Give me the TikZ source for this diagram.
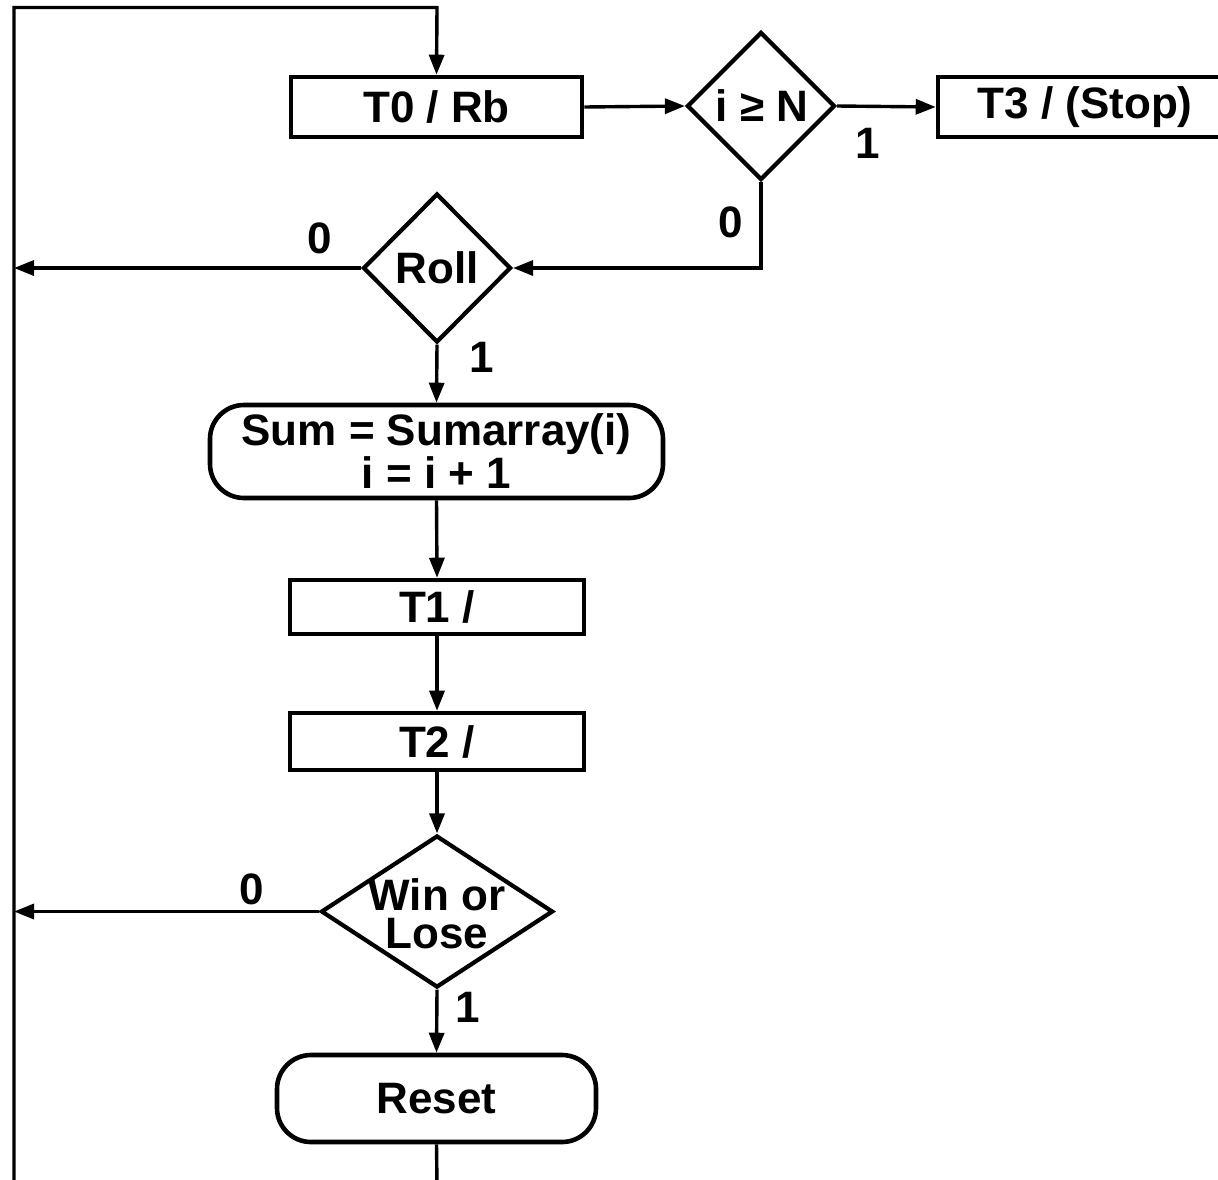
\documentclass[tikz,border=0pt]{standalone}
\usepackage{fontspec}
\setmainfont{Liberation Sans}
\usetikzlibrary{shapes.geometric,arrows.meta}

\begin{document}
\begin{tikzpicture}[x=0.5pt, y=-0.5pt,
		txt/.style={font=\fontsize{22}{19}\selectfont\bfseries, align=center, inner sep=0pt},
		stepbox/.style={draw, line width=2.3pt, rectangle, minimum width=147pt, txt},
		endbox/.style={draw, line width=2.3pt, rectangle, rounded corners=17pt, txt},
		test/.style={draw, line width=2.1pt, diamond, aspect=1, inner sep=0pt, txt},
		flow/.style={line width=1.7pt, -{Triangle[length=10pt,width=7.5pt]}},
		wire/.style={line width=1.7pt}]
	\useasboundingbox (0,0) rectangle (1218,1179);
	% boxes and tests
	\node[stepbox, minimum width=145.5pt, minimum height=30pt] (t0) at (436.5,107) {T0 / Rb};
	\node[test, minimum width=74pt, minimum height=74pt] (ige) at (761,106) {};
	\node[txt] (igetxt) at (762,106) {i ≥ N};
	\node[stepbox, minimum height=30pt] (t3) at (1085,107) {T3 / (Stop)};
	\node[test, minimum width=74pt, minimum height=74.5pt] (roll) at (437,268) {};
	\node[txt] (rolltxt) at (437,268) {Roll};
	\node[endbox, minimum width=226.5pt, minimum height=46.5pt] (sum) at (436.5,451.5) {Sum = Sumarray(i)\\i = i + 1};
	\node[stepbox, minimum height=27pt] (t1) at (437,607) {T1 /};
	\node[stepbox, minimum height=28.5pt] (t2) at (437,741.5) {T2 /};
	\node[test, minimum width=116pt, minimum height=76pt] (win) at (437,911.5) {};
	\node[txt] (wintxt) at (437,914) {Win or\\Lose};
	\node[endbox, minimum width=159.5pt, minimum height=43.5pt] (reset) at (436.5,1098.5) {Reset};
	% loop line
	\coordinate (bl) at (14,1185);
	\coordinate (tr) at (437,7.5);
	\coordinate (rb) at (437,1185);
	% connectors
	\draw[flow] (bl) |- (tr) -- (t0.north);
	\draw[flow] (t0.east) -- (ige.west);
	\draw[flow] (ige.east) -- (t3.west);
	\draw[flow] (ige.south) |- (roll.east);
	\draw[flow] (roll.west) -- (roll.west -| bl);
	\draw[flow] (roll.south) -- (sum.north);
	\draw[flow] (sum.south) -- (t1.north);
	\draw[flow] (t1.south) -- (t2.north);
	\draw[flow] (t2.south) -- (win.north);
	\draw[flow] (win.west) -- (win.west -| bl);
	\draw[flow] (win.south) -- (reset.north);
	\draw[wire] (reset.south) -- (rb);
	% branch labels
	\node[txt] (ige1) at (868,143) {1};
	\node[txt] (ige0) at (731,222) {0};
	\node[txt] (roll0) at (320,238) {0};
	\node[txt] (roll1) at (482,357) {1};
	\node[txt] (win0) at (252,889) {0};
	\node[txt] (win1) at (468,1007) {1};
\end{tikzpicture}
\end{document}
